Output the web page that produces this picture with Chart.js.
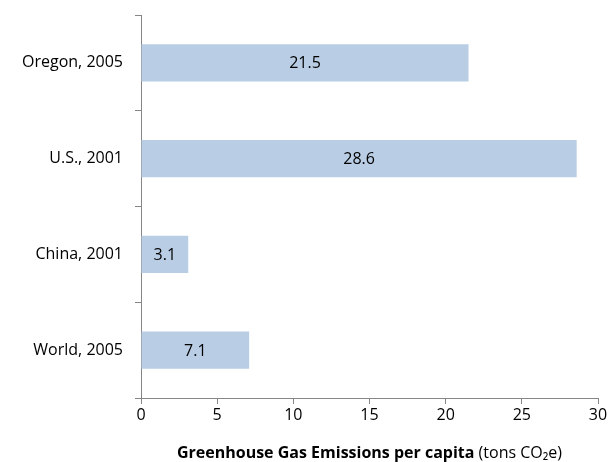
<!DOCTYPE html>
<html>
<head>
<meta charset="utf-8">
<script src="https://cdn.jsdelivr.net/npm/chart.js@4"></script>
<style>
  html, body { margin: 0; padding: 0; background: #fff; }
  #wrap { width: 610px; height: 462px; }
</style>
</head>
<body>
<div id="wrap"><canvas id="ghgChart" width="610" height="462"></canvas></div>
<script>
const categories = ['Oregon, 2005', 'U.S., 2001', 'China, 2001', 'World, 2005'];
const emissions = [21.5, 28.6, 3.1, 7.1];
const xTicks = [0, 5, 10, 15, 20, 25, 30];

const axisGray = '#868686';
const fontFamily = "'Open Sans', 'Liberation Sans', sans-serif";

// value labels centred inside each bar
const barLabels = {
    id: 'barLabels',
    afterDatasetsDraw(chart) {
        const ctx = chart.ctx;
        const meta = chart.getDatasetMeta(0);
        ctx.save();
        ctx.font = '16px ' + fontFamily;
        ctx.fillStyle = '#000';
        ctx.textAlign = 'center';
        ctx.textBaseline = 'middle';
        meta.data.forEach((bar, i) => {
            const cx = (bar.x + bar.base) / 2;
            ctx.fillText(emissions[i].toFixed(1), cx, bar.y + 1);
        });
        ctx.restore();
    }
};

// axis title: bold part + normal part
const axisTitle = {
    id: 'axisTitle',
    afterDraw(chart) {
        const ctx = chart.ctx;
        const area = chart.chartArea;
        const boldText = 'Greenhouse Gas Emissions per capita';
        const normalText = ' (tons CO\u2082e)';
        ctx.save();
        ctx.textBaseline = 'middle';
        ctx.fillStyle = '#000';
        ctx.font = 'bold 16px ' + fontFamily;
        const w1 = ctx.measureText(boldText).width;
        ctx.font = '16px ' + fontFamily;
        const w2 = ctx.measureText(normalText).width;
        const cx = (area.left + area.right) / 2;
        let x = cx - (w1 + w2) / 2;
        ctx.textAlign = 'left';
        ctx.font = 'bold 16px ' + fontFamily;
        ctx.fillText(boldText, x, 453);
        ctx.font = '16px ' + fontFamily;
        ctx.fillText(normalText, x + w1, 453);
        ctx.restore();
    }
};

const ctx = document.getElementById('ghgChart').getContext('2d');
new Chart(ctx, {
    type: 'bar',
    data: {
        labels: categories,
        datasets: [{
            data: emissions,
            backgroundColor: '#b9cde5',
            borderWidth: 0,
            barPercentage: 0.39,
            categoryPercentage: 1
        }]
    },
    options: {
        indexAxis: 'y',
        responsive: false,
        animation: false,
        layout: {
            padding: { top: 15, right: 12, left: 0, bottom: 0 }
        },
        plugins: {
            legend: { display: false },
            tooltip: { enabled: false }
        },
        scales: {
            x: {
                min: 0,
                max: 30,
                afterBuildTicks(scale) {
                    scale.ticks = xTicks.map(v => ({ value: v }));
                },
                afterFit(scale) {
                    scale.height = 64;
                },
                grid: {
                    drawOnChartArea: false,
                    drawTicks: true,
                    tickLength: 6,
                    color: axisGray
                },
                border: { color: axisGray, width: 1 },
                ticks: {
                    color: '#000',
                    font: { family: fontFamily, size: 16 },
                    padding: 2,
                    maxRotation: 0
                }
            },
            y: {
                afterFit(scale) {
                    scale.width = 141;
                    scale.paddingTop = 0;
                    scale.paddingBottom = 0;
                },
                grid: {
                    drawOnChartArea: false,
                    drawTicks: true,
                    tickLength: 6,
                    color: axisGray,
                    offset: true
                },
                border: { color: axisGray, width: 1 },
                ticks: {
                    color: '#000',
                    font: { family: fontFamily, size: 16 },
                    padding: 12
                }
            }
        }
    },
    plugins: [barLabels, axisTitle]
});
</script>
</body>
</html>
